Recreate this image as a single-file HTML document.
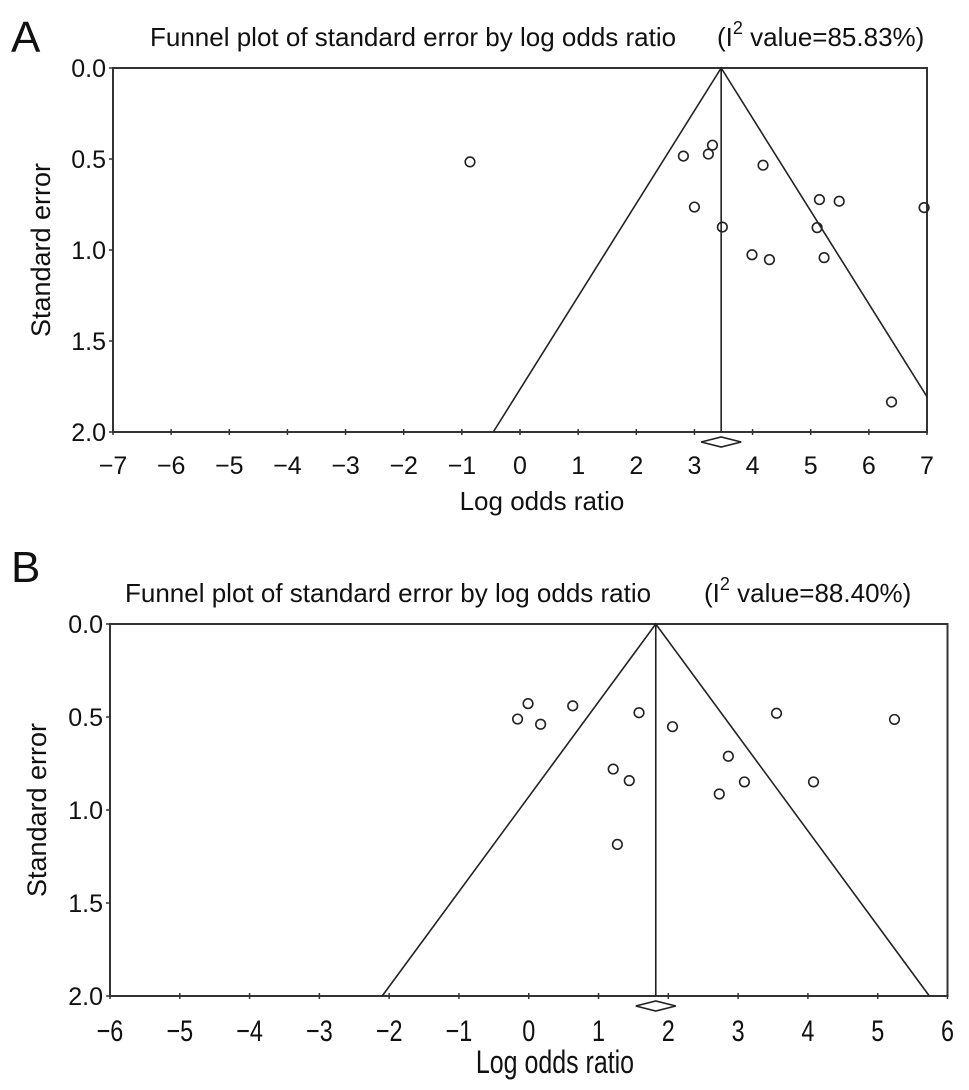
<!DOCTYPE html>
<html><head><meta charset="utf-8">
<style>
html,body{margin:0;padding:0;background:#fff;}
svg{display:block;font-family:"Liberation Sans",Arial,sans-serif;}
</style></head>
<body>
<svg id="fig" width="969" height="1090" viewBox="0 0 969 1090">
<text x="11" y="52" font-size="44" fill="#111">A</text>
<text x="150" y="46" font-size="26" fill="#111">Funnel plot of standard error by log odds ratio</text>
<text x="717" y="46" font-size="26" fill="#111">(I<tspan dy="-12" font-size="18">2</tspan><tspan dy="12"> value=85.83%)</tspan></text>
<text x="11" y="582" font-size="44" fill="#111">B</text>
<text x="125" y="602" font-size="26" fill="#111">Funnel plot of standard error by log odds ratio</text>
<text x="704" y="602" font-size="26" fill="#111">(I<tspan dy="-12" font-size="18">2</tspan><tspan dy="12"> value=88.40%)</tspan></text>
<g id="pa"></g>
<g id="pb"></g>
</svg>
<script>
// Panel A data
const aXTicks = [-7,-6,-5,-4,-3,-2,-1,0,1,2,3,4,5,6,7];
const aYTicks = [0,0.5,1,1.5,2];
const aLogOR = [-0.86,2.81,3.24,3.31,4.18,3.00,3.48,5.15,5.49,6.95,5.11,3.99,4.29,5.23,6.39];
const aSE    = [0.516,0.484,0.473,0.424,0.534,0.764,0.874,0.723,0.732,0.767,0.877,1.026,1.053,1.042,1.835];
const aMean = 3.46;
// Panel B data
const bXTicks = [-6,-5,-4,-3,-2,-1,0,1,2,3,4,5,6];
const bYTicks = [0,0.5,1,1.5,2];
const bLogOR = [-0.01,-0.16,0.17,0.63,1.58,2.06,1.21,1.44,1.27,2.86,3.09,2.73,3.55,5.24,4.08];
const bSE    = [0.428,0.511,0.539,0.440,0.477,0.552,0.780,0.842,1.185,0.711,0.849,0.914,0.480,0.513,0.849];
const bMean = 1.82;

const NS='http://www.w3.org/2000/svg';
function mk(parent,tag,attrs){const e=document.createElementNS(NS,tag);for(const k in attrs)e.setAttribute(k,attrs[k]);parent.appendChild(e);return e;}

function draw(g,cfg){
  const {x0,x1,y0,y1,xmin,xmax,xt,yt,lor,se,mean,tickY,titleY,titleX,yTitleX,condensed}=cfg;
  const X=v=>x0+(v-xmin)/(xmax-xmin)*(x1-x0);
  const Y=v=>y0+v/2*(y1-y0);
  const box=mk(g,'rect',{x:x0,y:y0,width:x1-x0,height:y1-y0,fill:'none',stroke:'#333','stroke-width':2});
  
  
  xt.forEach(t=>{
    const l=mk(g,'line',{x1:X(t),x2:X(t),y1:y1-3,y2:y1+3,stroke:'#333','stroke-width':1.5});
    
    
    const tx=mk(g,'text',{x:X(t),y:tickY,'font-size':condensed?30:25,'text-anchor':'middle',fill:'#111'});
    
    
    if(condensed)tx.setAttribute('transform',`translate(${X(t)} 0) scale(0.78 1) translate(${-X(t)} 0)`);
    tx.textContent=(t<0?'\u2212'+(-t):String(t));
  });
  yt.forEach(t=>{
    const l=mk(g,'line',{x1:x0-4,x2:x0,y1:Y(t),y2:Y(t),stroke:'#333','stroke-width':1.5});
    
    
    const tx=mk(g,'text',{x:x0-7,y:Y(t)+9,'font-size':25,'text-anchor':'end',fill:'#111'});
    
    
    tx.textContent=t.toFixed(1);
  });
  const lo=mean-1.96*2, hi=mean+1.96*2;
  const clipHi=Math.min(hi,xmax), seHi=(clipHi-mean)/1.96;
  const clipLo=Math.max(lo,xmin), seLo=(mean-clipLo)/1.96;
  const f=mk(g,'polyline',{points:`${X(clipLo)},${Y(seLo)} ${X(mean)},${Y(0)} ${X(clipHi)},${Y(seHi)}`,fill:'none',stroke:'#222','stroke-width':1.6});
  
  
  const m=mk(g,'line',{x1:X(mean),x2:X(mean),y1:y0,y2:y1,stroke:'#222','stroke-width':1.6});
  
  
  const cx=X(mean), dy=y1+10;
  const d=mk(g,'polygon',{points:`${cx-20},${dy} ${cx},${dy-5} ${cx+20},${dy} ${cx},${dy+5}`,fill:'none',stroke:'#222','stroke-width':1.6});
  
  
  lor.forEach((v,i)=>{
    const c=mk(g,'circle',{cx:X(v),cy:Y(se[i]),r:4.8,fill:'none',stroke:'#222','stroke-width':1.6});
    
    
  });
  const xt2=mk(g,'text',{x:titleX,y:titleY,'font-size':condensed?32:26,'text-anchor':'middle',fill:'#111'});
  
  
  if(condensed)xt2.setAttribute('transform',`translate(${titleX} 0) scale(0.78 1) translate(${-titleX} 0)`);
  xt2.textContent='Log odds ratio';
  const ym=(y0+y1)/2;
  const yt2=mk(g,'text',{x:yTitleX,y:ym,'font-size':27,'text-anchor':'middle',fill:'#111',transform:`rotate(-90 ${yTitleX} ${ym})`});
  
  
  yt2.textContent='Standard error';
}
draw(document.getElementById('pa'),{x0:113,x1:927,y0:68,y1:432,xmin:-7,xmax:7,xt:aXTicks,yt:aYTicks,lor:aLogOR,se:aSE,mean:aMean,tickY:474,titleY:510,titleX:542,yTitleX:50,condensed:false});
draw(document.getElementById('pb'),{x0:110,x1:947.5,y0:624,y1:996,xmin:-6,xmax:6,xt:bXTicks,yt:bYTicks,lor:bLogOR,se:bSE,mean:bMean,tickY:1041,titleY:1073,titleX:555,yTitleX:46,condensed:true});
</script>
</body></html>
